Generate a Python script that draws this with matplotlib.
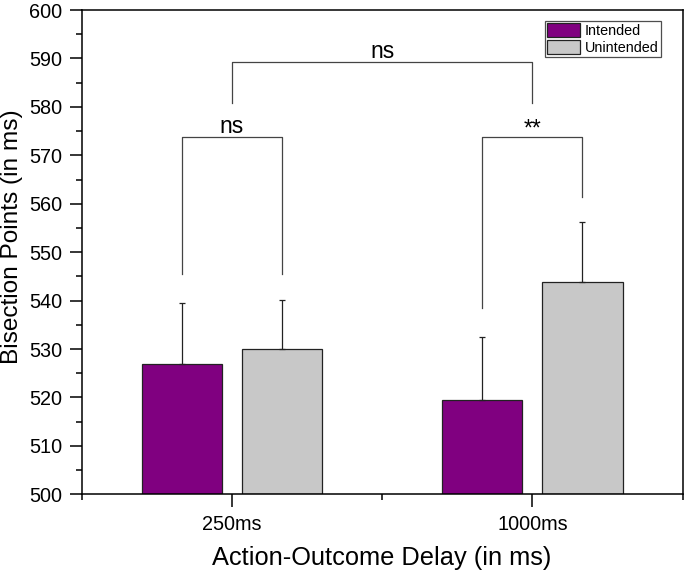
import matplotlib
matplotlib.use("Agg")
import matplotlib.pyplot as plt
import numpy as np

# data
delays = ["250ms", "1000ms"]
series = ["Intended", "Unintended"]
intended = [527.0, 519.4]
unintended = [530.1, 543.8]
intended_err = [12.6, 13.0]
unintended_err = [10.0, 12.4]
colors = {"Intended": "#800080", "Unintended": "#C8C8C8"}

# significance brackets: (x_left, x_right, y_top, y_left_end, y_right_end, label)
brackets = [
    (1 - 1/6, 1 + 1/6, 573.8, 545.5, 545.5, "ns"),
    (2 - 1/6, 2 + 1/6, 573.8, 538.4, 561.3, "**"),
    (1, 2, 589.3, 580.9, 580.9, "ns"),
]

plt.rcParams["font.family"] = ["Liberation Sans", "DejaVu Sans"]

fig = plt.figure(figsize=(6.85, 5.73), dpi=100)
ax = fig.add_axes([0.1193, 0.1373, 0.8771, 0.8452])

x = np.arange(1, len(delays) + 1)
w = 0.267
off = 1/6
for vals, errs, name, dx in [(intended, intended_err, "Intended", -off),
                             (unintended, unintended_err, "Unintended", off)]:
    ax.bar(x + dx, np.array(vals) - 500, bottom=500, width=w,
           color=colors[name], edgecolor="#222222", linewidth=0.9,
           label=name, zorder=2)
    ax.errorbar(x + dx, vals, yerr=[np.zeros(len(errs)), errs],
                fmt="none", ecolor="#222222", elinewidth=0.9,
                capsize=2.2, capthick=0.9, zorder=3)

for xl, xr, yt, yl, yr, lab in brackets:
    ax.plot([xl, xl, xr, xr], [yl, yt, yt, yr], color="#444444",
            linewidth=0.9, zorder=3)
    ty = yt + 0.8 if lab == "ns" else yt + 0.2
    ax.text((xl + xr) / 2, ty, lab, ha="center", va="baseline",
            fontsize=16.5)

ax.set_xlim(0.5, 2.5)
ax.set_ylim(500, 600)
ax.set_xticks(x)
ax.set_xticklabels(delays)
ax.set_xticks([0.5, 1.5, 2.5], minor=True)
ax.set_yticks(np.arange(500, 601, 10))
ax.set_yticks(np.arange(505, 600, 10), minor=True)
ax.tick_params(axis="both", which="major", direction="out", length=9,
               width=1.1, labelsize=14.3)
ax.tick_params(axis="both", which="minor", direction="out", length=4,
               width=1.1)
ax.tick_params(axis="x", which="major", pad=6)
ax.tick_params(axis="y", which="major", pad=5)
for sp in ax.spines.values():
    sp.set_linewidth(1.1)

ax.set_xlabel("Action-Outcome Delay (in ms)", fontsize=18.3, labelpad=8.5)
ax.set_ylabel("Bisection Points (in ms)", fontsize=17.6)
ax.yaxis.set_label_coords(-0.097, 0.533)

leg = ax.legend(loc="upper right", bbox_to_anchor=(0.964, 0.978),
                fontsize=10.4, frameon=True, fancybox=False,
                handlelength=2.3, handleheight=1.1, labelspacing=0.15,
                handletextpad=0.35, borderpad=0.15, borderaxespad=0.0)
leg.get_frame().set_edgecolor("#222222")
leg.get_frame().set_linewidth(0.9)

fig.savefig("out.png", dpi=100)
